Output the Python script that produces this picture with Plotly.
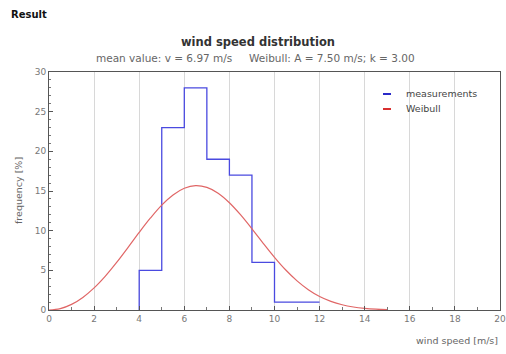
import plotly.graph_objects as go

# measurement histogram (step outline)
meas_x = [4, 4, 5, 6, 7, 8, 9, 10, 12]
meas_y = [0, 5, 23, 28, 19, 17, 6, 1, 1]

# Weibull curve (A=7.50, k=3.00)
weib_x = [0, 0.5, 1, 1.5, 2, 2.5, 3, 3.5, 4, 4.5, 5, 5.5, 6, 6.5, 7, 7.5,
          8, 8.5, 9, 9.5, 10, 10.5, 11, 11.5, 12, 12.5, 13, 13.5, 14, 14.5, 15]
weib_y = [0, 0.18, 0.71, 1.59, 2.79, 4.28, 6.00, 7.87, 9.78, 11.60, 13.22, 14.50,
          15.34, 15.67, 15.45, 14.72, 13.52, 11.98, 10.23, 8.41, 6.64, 5.04, 3.67,
          2.56, 1.70, 1.09, 0.66, 0.38, 0.21, 0.11, 0.05]

series_names = ["measurements", "Weibull"]
series_colors = ["#4a4ae0", "#e06666"]
legend_colors = ["#2a2ac8", "#d83030"]

fig = go.Figure()
fig.add_trace(go.Scatter(x=meas_x, y=meas_y, mode="lines", line_shape="hv",
                         name=series_names[0], line=dict(color=series_colors[0], width=1.3)))
fig.add_trace(go.Scatter(x=weib_x, y=weib_y, mode="lines", line_shape="spline",
                         name=series_names[1], line=dict(color=series_colors[1], width=1.2)))

axis_common = dict(showline=True, linecolor="#555555", linewidth=1, mirror=True,
                   ticks="inside", ticklen=4, tickcolor="#555555", zeroline=False,
                   automargin=False,
                   tickfont=dict(family="DejaVu Sans", size=9, color="#777777"))

fig.update_xaxes(range=[0, 20], dtick=2, tick0=0, showgrid=True, gridcolor="#d8d8d8",
                 minor=dict(dtick=1, ticks="inside", ticklen=3, tickcolor="#777777", showgrid=False),
                 **axis_common)
fig.update_yaxes(range=[0, 30], dtick=5, tick0=0, showgrid=False,
                 minor=dict(dtick=1, ticks="inside", ticklen=2, tickcolor="#777777"),
                 **axis_common)

W, H = 506, 354
L, R, T, B = 49, 6, 72, 44
pw, ph = W - L - R, H - T - B

def px(x):
    return (x - L) / pw

def py(y):
    return (H - B - y) / ph

fig.update_layout(
    width=W, height=H,
    margin=dict(l=L, r=R, t=T, b=B),
    paper_bgcolor="white", plot_bgcolor="white",
    showlegend=False,
)

fig.add_annotation(text="<b>Result</b>", xref="paper", yref="paper",
                   x=px(9), y=py(15), xanchor="left", yanchor="middle",
                   showarrow=False, font=dict(family="DejaVu Sans", size=10, color="#111111"))
fig.add_annotation(text="<b>wind speed distribution</b>", xref="paper", yref="paper",
                   x=px(258), y=py(42), xanchor="center", yanchor="middle",
                   showarrow=False, font=dict(family="DejaVu Sans", size=11.5, color="#333333"))
fig.add_annotation(text="mean value: v = 6.97 m/s     Weibull: A = 7.50 m/s; k = 3.00",
                   xref="paper", yref="paper",
                   x=px(255), y=py(58), xanchor="center", yanchor="middle",
                   showarrow=False, font=dict(family="DejaVu Sans", size=10.5, color="#666666"))
fig.add_annotation(text="frequency [%]", xref="paper", yref="paper",
                   x=px(18), y=py(190), xanchor="center", yanchor="middle",
                   textangle=-90, showarrow=False,
                   font=dict(family="DejaVu Sans", size=9.5, color="#666666"))
fig.add_annotation(text="wind speed [m/s]", xref="paper", yref="paper",
                   x=px(500), y=py(340), xanchor="right", yanchor="middle",
                   showarrow=False, font=dict(family="DejaVu Sans", size=9.5, color="#666666"))

# custom legend (short line samples)
for i, (name, col) in enumerate(zip(series_names, legend_colors)):
    yy = 93 + i * 15
    fig.add_shape(type="line", xref="paper", yref="paper",
                  x0=px(383), x1=px(391), y0=py(yy + 1), y1=py(yy + 1),
                  line=dict(color=col, width=2))
    fig.add_annotation(text=name, xref="paper", yref="paper",
                       x=px(404), y=py(yy), xanchor="left", yanchor="middle",
                       showarrow=False,
                       font=dict(family="DejaVu Sans", size=9.5, color="#444444"))

fig.write_html("out.html")
